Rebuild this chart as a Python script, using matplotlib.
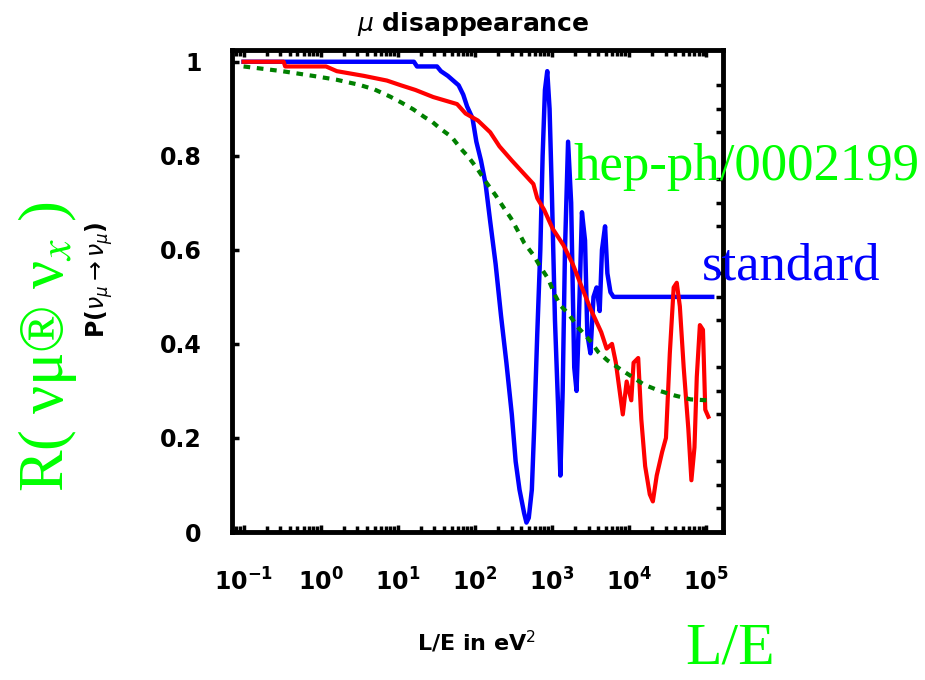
import numpy as np
import matplotlib
matplotlib.use("Agg")
import matplotlib.pyplot as plt
from matplotlib.ticker import LogLocator, FixedLocator, MultipleLocator, NullFormatter

# log10(L/E) and survival probability for each model
red_logx = [-1.0, -0.48, -0.46, 0.07, 0.21, 0.56, 0.86, 1.04, 1.23, 1.46, 1.77, 1.88,
            2.04, 2.2, 2.32, 2.48, 2.62, 2.76, 2.81, 2.9, 3.01, 3.15, 3.27, 3.39, 3.5,
            3.64, 3.71, 3.78, 3.83, 3.92, 3.97, 4.03, 4.06, 4.12, 4.16, 4.21, 4.27,
            4.31, 4.36, 4.43, 4.48, 4.53, 4.58, 4.62, 4.66, 4.71, 4.77, 4.81, 4.85,
            4.88, 4.92, 4.96, 4.99, 5.03]
red_p = [1.0, 1.0, 0.99, 0.99, 0.98, 0.97, 0.96, 0.95, 0.94, 0.925, 0.91, 0.89,
         0.875, 0.85, 0.82, 0.79, 0.765, 0.74, 0.71, 0.685, 0.645, 0.61, 0.57, 0.52, 0.475,
         0.425, 0.39, 0.40, 0.36, 0.25, 0.32, 0.28, 0.36, 0.37, 0.24, 0.14, 0.08,
         0.065, 0.12, 0.17, 0.20, 0.38, 0.52, 0.53, 0.48, 0.35, 0.22, 0.11, 0.18,
         0.33, 0.44, 0.43, 0.26, 0.245]

blue_logx = [-1.0, 1.21, 1.25, 1.51, 1.56, 1.65, 1.72, 1.79, 1.85, 1.9, 1.97, 2.02,
             2.08, 2.14, 2.2, 2.27, 2.34, 2.41, 2.48, 2.53, 2.58, 2.64, 2.67, 2.7,
             2.74, 2.77, 2.81, 2.85, 2.88, 2.91, 2.94, 2.97, 3.0, 3.04, 3.08, 3.11,
             3.14, 3.17, 3.21, 3.25, 3.29, 3.32, 3.35, 3.39, 3.43, 3.46, 3.5, 3.54,
             3.58, 3.62, 3.65, 3.69, 3.72, 3.76, 3.8, 5.08]
blue_p = [1.0, 1.0, 0.99, 0.99, 0.98, 0.97, 0.96, 0.95, 0.93, 0.905, 0.88, 0.83,
          0.79, 0.74, 0.66, 0.57, 0.46, 0.36, 0.25, 0.15, 0.09, 0.04, 0.02, 0.03,
          0.09, 0.22, 0.42, 0.6, 0.8, 0.94, 0.98, 0.9, 0.72, 0.45, 0.27, 0.12,
          0.3, 0.6, 0.83, 0.7, 0.35, 0.3, 0.45, 0.68, 0.62, 0.42, 0.38, 0.5,
          0.52, 0.47, 0.6, 0.65, 0.55, 0.51, 0.5, 0.5]

green_logx = [-1.0, -0.5, -0.1, 0.2, 0.5, 0.7, 0.9, 1.05, 1.2, 1.35, 1.45, 1.55, 1.7,
              1.82, 1.92, 2.03, 2.15, 2.27, 2.37, 2.47, 2.57, 2.64, 2.76, 2.85, 2.95,
              3.04, 3.11, 3.22, 3.34, 3.5, 3.6, 3.72, 3.9, 4.05, 4.2, 4.4, 4.6, 4.8, 5.02]
green_p = [0.99, 0.98, 0.97, 0.962, 0.951, 0.941, 0.926, 0.913, 0.899, 0.882, 0.872,
           0.858, 0.84, 0.815, 0.797, 0.773, 0.743, 0.716, 0.691, 0.667, 0.637, 0.615,
           0.589, 0.564, 0.539, 0.504, 0.482, 0.463, 0.435, 0.406, 0.383, 0.365, 0.345,
           0.329, 0.313, 0.300, 0.29, 0.282, 0.28]

y_ticks = [0, 0.2, 0.4, 0.6, 0.8, 1.0]
y_ticklabels = ["0", "0.2", "0.4", "0.6", "0.8", "1"]

W, H = 925, 680
fig = plt.figure(figsize=(W / 100, H / 100), dpi=100)
ax = fig.add_axes([232 / W, 1 - 532 / H, (723 - 232) / W, (532 - 50) / H])

ax.plot(10 ** np.array(blue_logx), blue_p, color="#0000ff", lw=3.2, zorder=3)
ax.plot(10 ** np.array(red_logx), red_p, color="#ff0000", lw=3.0, zorder=4)
ax.plot(10 ** np.array(green_logx), green_p, color="#008000", lw=3.0,
        dashes=(1.6, 1.6), zorder=5)

ax.set_xscale("log")
ax.set_xlim(10 ** -1.15, 10 ** 5.22)
ax.set_ylim(0, 1.025)

for s in ax.spines.values():
    s.set_linewidth(3.5)

ax.xaxis.set_major_locator(LogLocator(base=10, numticks=10))
ax.xaxis.set_minor_locator(LogLocator(base=10, subs=np.arange(2, 10), numticks=20))
ax.xaxis.set_minor_formatter(NullFormatter())
ax.yaxis.set_major_locator(FixedLocator(y_ticks))
ax.set_yticklabels(y_ticklabels)
ax.yaxis.set_minor_locator(MultipleLocator(0.05))

ax.tick_params(which="both", direction="in", top=True, right=True, width=2.5)
ax.tick_params(which="major", length=5)
ax.tick_params(which="minor", length=4)
ax.tick_params(axis="y", which="major", right=False, pad=22)
ax.tick_params(axis="y", which="minor", left=False, right=True, length=5)
ax.tick_params(axis="x", which="major", pad=26)
for lab in ax.get_xticklabels() + ax.get_yticklabels():
    lab.set_fontsize(17)
    lab.set_fontweight("bold")

ax.set_ylabel(r"P($\nu_\mu\rightarrow\nu_\mu$)", fontsize=17, fontweight="bold")
ax.yaxis.set_label_coords((115 - 232) / 491, (532 - 280) / 482)

fig.text(473 / W, 1 - 31 / H, r"$\mu$ disappearance", ha="center", va="baseline",
         fontsize=18, fontweight="bold")
fig.text(477 / W, 1 - 642 / H, r"L/E in eV$^{2}$", ha="center", va="center",
         fontsize=16, fontweight="bold")

serif = "Liberation Serif"
fig.text(573 / W, 1 - 180 / H, "hep-ph/0002199", color="#00ff00", fontsize=38,
         family=serif, ha="left", va="baseline")
fig.text(702 / W, 1 - 280 / H, "standard", color="#0000ff", fontsize=38,
         family=serif, ha="left", va="baseline")
fig.text(685 / W, 1 - 664 / H, "L/E", color="#00ff00", fontsize=43,
         family=serif, ha="left", va="baseline")
plt.rcParams["mathtext.fontset"] = "stix"
fig.text(63 / W, 1 - 492 / H, r"R( νμ® ν$_x$ )", color="#00ff00", fontsize=45,
         family=serif, rotation=90, rotation_mode="anchor", ha="left", va="baseline")

fig.savefig("out.png", dpi=100)
